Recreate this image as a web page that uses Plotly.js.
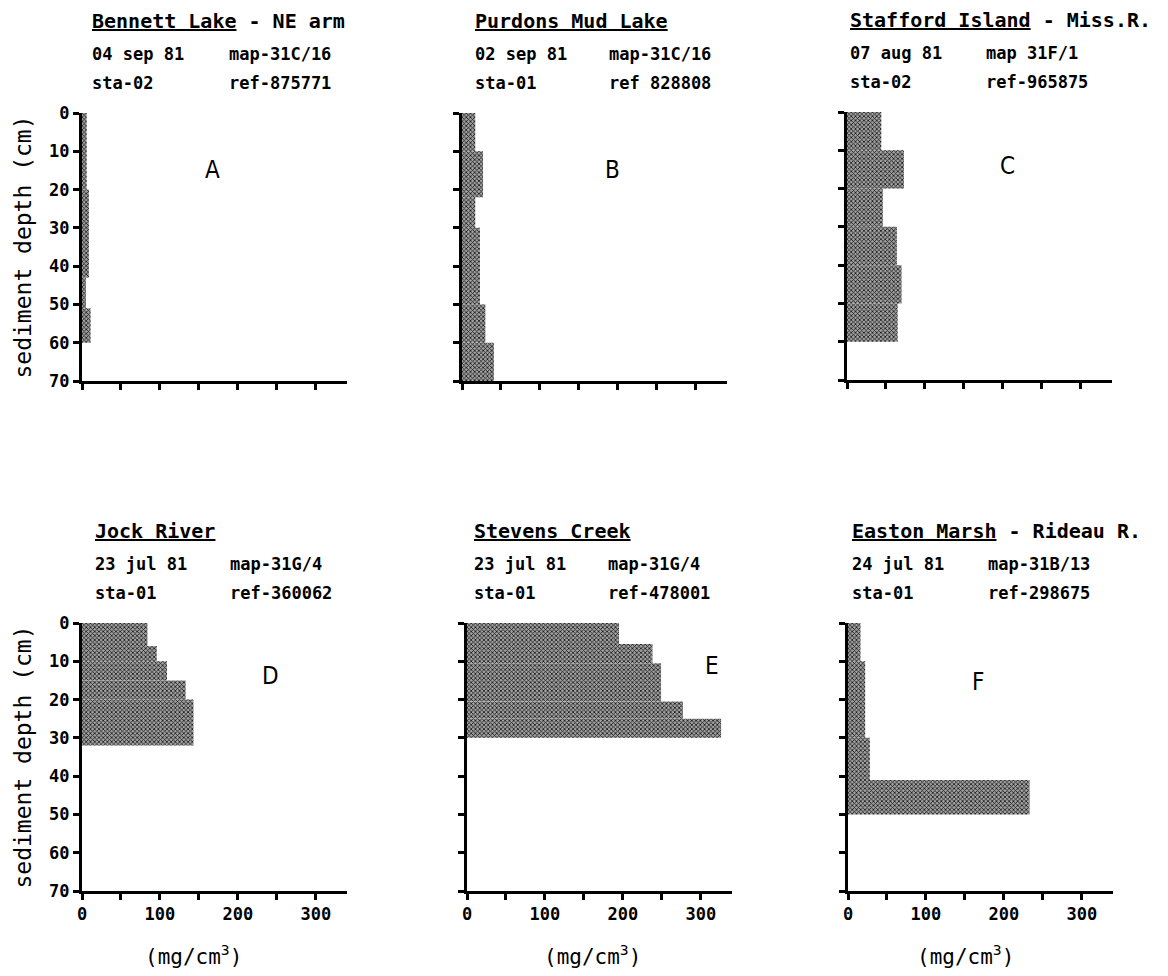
<!DOCTYPE html>
<html><head><meta charset="utf-8">
<script src="https://cdn.plot.ly/plotly-3.0.1.min.js"></script>
<style>html,body{margin:0;padding:0;background:#fff}</style>
</head><body><div id="chart" style="width:1168px;height:976px"></div>
<script>
// ---- panel descriptors ----
const panelLetters = ['A','B','C','D','E','F'];
const siteNames    = ['Bennett Lake','Purdons Mud Lake','Stafford Island','Jock River','Stevens Creek','Easton Marsh'];
const siteSuffixes = [' - NE arm','',' - Miss.R.','','',' - Rideau R.'];
const sampleDates  = ['04 sep 81','02 sep 81','07 aug 81','23 jul 81','23 jul 81','24 jul 81'];
const mapSheets    = ['map-31C/16','map-31C/16','map 31F/1','map-31G/4','map-31G/4','map-31B/13'];
const stations     = ['sta-02','sta-01','sta-02','sta-01','sta-01','sta-01'];
const refNumbers   = ['ref-875771','ref 828808','ref-965875','ref-360062','ref-478001','ref-298675'];

// ---- data: depth interval top / bottom (cm) and concentration (mg/cm3) ----
const depthTopA = [0, 20, 43, 51];          const depthBotA = [20, 43, 51, 60];          const valueA = [6, 9, 5, 11];
const depthTopB = [0, 10, 22, 30, 50, 60];  const depthBotB = [10, 22, 30, 50, 60, 70];  const valueB = [17, 27, 17, 23, 30, 41];
const depthTopC = [0, 10, 20, 30, 40, 50];  const depthBotC = [10, 20, 30, 40, 50, 60];  const valueC = [44, 73, 46, 64, 70, 65];
const depthTopD = [0, 6, 10, 15, 20];       const depthBotD = [6, 10, 15, 20, 32];       const valueD = [84, 96, 109, 133, 143];
const depthTopE = [0, 5.5, 10.5, 20.5, 25]; const depthBotE = [5.5, 10.5, 20.5, 25, 30]; const valueE = [195, 238, 249, 277, 326];
const depthTopF = [0, 10, 30, 41];          const depthBotF = [10, 30, 41, 50];          const valueF = [16, 22, 28, 233];

const depthTicks = [0, 10, 20, 30, 40, 50, 60, 70];
const concTicks  = [0, 100, 200, 300];
const concMinorTicks = [50, 150, 250];
const xTitle = '(mg/cm<sup>3</sup>)';
const yTitle = 'sediment depth (cm)';

const panelData = [
  [depthTopA, depthBotA, valueA], [depthTopB, depthBotB, valueB], [depthTopC, depthBotC, valueC],
  [depthTopD, depthBotD, valueD], [depthTopE, depthBotE, valueE], [depthTopF, depthBotF, valueF]
];

// ---- layout geometry (pixels) ----
const W = 1168, H = 976;
const panelLeft = [82, 462, 847, 82, 467, 848];
const panelTop  = [113, 113, 112, 623, 623, 623];
const panelW = 265, panelH = 268;
const col2Offset = [137, 134, 136, 135, 134, 136];
const headerInset = [8, 11, 1, 11, 5, 2];
const letterPos = [[212,170],[612,170],[1007,166],[270,676],[712,666],[978,682]];
const xTitleCenter = [193, 592, 965];

const mono = 'DejaVu Sans Mono, Liberation Mono, monospace';
const layout = {
  width: W, height: H, margin: {l:0, r:0, t:0, b:0},
  paper_bgcolor: 'white', plot_bgcolor: 'white', showlegend: false,
  font: {family: mono, size: 17, color: 'black'},
  annotations: []
};
const traces = [];

function ann(text, px, py, size, family, extra) {
  return Object.assign({text: text, x: px / W, y: 1 - py / H, xref: 'paper', yref: 'paper',
    xanchor: 'left', yanchor: 'middle', showarrow: false,
    font: {family: family || mono, size: size, color: 'black', weight: 'bold'}}, extra || {});
}

for (let i = 0; i < 6; i++) {
  const n = i === 0 ? '' : String(i + 1);
  const bottomRow = i >= 3, leftCol = (i % 3) === 0;
  const [tops, bots, vals] = panelData[i];
  const mids = tops.map((t, k) => (t + bots[k]) / 2);
  const thick = tops.map((t, k) => bots[k] - t);
  traces.push({
    type: 'bar', orientation: 'h', x: vals, y: mids, width: thick, base: 0,
    xaxis: 'x' + n, yaxis: 'y' + n, hoverinfo: 'skip',
    marker: {color: '#7a7a7a', line: {width: 0},
      pattern: {shape: 'x', size: 3, solidity: 0.45, fgcolor: '#151515', bgcolor: '#a0a0a0'}}
  });
  const xa = {
    domain: [panelLeft[i] / W, (panelLeft[i] + panelW) / W], range: [0, 340], anchor: 'y' + n,
    showline: true, linecolor: 'black', linewidth: 3, showgrid: false, zeroline: false,
    ticks: 'outside', ticklen: 6, tickwidth: 3, tickcolor: 'black',
    tickmode: 'array', tickvals: concTicks,
    minor: {tickmode: 'array', tickvals: concMinorTicks, ticks: 'outside', ticklen: 6, tickwidth: 3, tickcolor: 'black'},
    showticklabels: bottomRow, tickfont: {family: mono, size: 17, weight: 'bold'}
  };
  const ya = {
    domain: [1 - (panelTop[i] + panelH) / H, 1 - panelTop[i] / H], range: [70, 0], anchor: 'x' + n,
    showline: true, linecolor: 'black', linewidth: 3, showgrid: false, zeroline: false,
    ticks: 'outside', ticklen: 6, tickwidth: 3, tickcolor: 'black',
    tickmode: 'array', tickvals: depthTicks, showticklabels: leftCol,
    tickfont: {family: mono, size: 17, weight: 'bold'}
  };
  if (leftCol) ya.title = {text: yTitle, font: {family: mono, size: 23}, standoff: 12};
  layout['xaxis' + n] = xa;
  layout['yaxis' + n] = ya;

  const hx = panelLeft[i] + headerInset[i];
  const t0 = panelTop[i];
  layout.annotations.push(ann('<u>' + siteNames[i] + '</u>' + siteSuffixes[i], hx, t0 - 92, 20));
  layout.annotations.push(ann(sampleDates[i], hx, t0 - 59, 17));
  layout.annotations.push(ann(mapSheets[i], hx + col2Offset[i], t0 - 59, 17));
  layout.annotations.push(ann(stations[i], hx, t0 - 30, 17));
  layout.annotations.push(ann(refNumbers[i], hx + col2Offset[i], t0 - 30, 17));
  layout.annotations.push(ann(panelLetters[i], letterPos[i][0], letterPos[i][1], 24,
    'DejaVu Sans Condensed, DejaVu Sans, sans-serif', {xanchor: 'center'}));
  if (bottomRow) {
    const a = ann(xTitle, xTitleCenter[i - 3], 955, 21, mono, {xanchor: 'center'});
    a.font.weight = 'normal';
    layout.annotations.push(a);
  }
}
layout.annotations.forEach(a => { if (a.font.size === 24) a.font.weight = 'normal'; });

Plotly.newPlot('chart', traces, layout, {staticPlot: true, displayModeBar: false});
</script></body></html>
